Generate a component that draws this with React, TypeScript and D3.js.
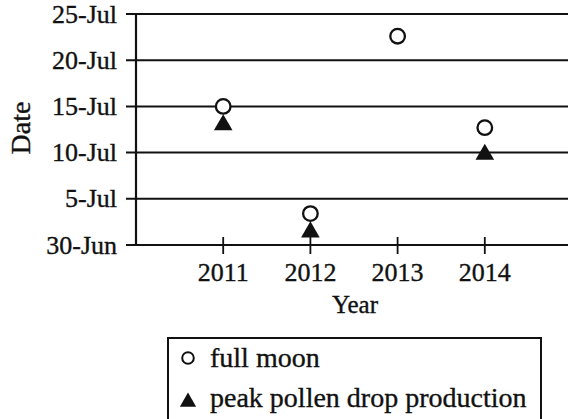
import React from "react";
import * as d3 from "d3";

const years = [2011, 2012, 2013, 2014];
const yearLabels = ["2011", "2012", "2013", "2014"];
// days after 30-Jun
const fullMoon = [15, 3.4, 22.6, 12.7];
const pollenPeak: (number | null)[] = [13, 1.4, null, 9.8];
const dateTicks = [0, 5, 10, 15, 20, 25];
const dateTickLabels = ["30-Jun", "5-Jul", "10-Jul", "15-Jul", "20-Jul", "25-Jul"];
const legendLabels = ["full moon", "peak pollen drop production"];

const W = 568;
const H = 419;
const FONT = "'Liberation Serif', 'DejaVu Serif', serif";
const INK = "#111";

export default function App() {
  const x = d3.scaleLinear().domain([2010, 2015]).range([136, 572]);
  const y = d3.scaleLinear().domain([0, 25]).range([245, 14]);
  const tri = d3.symbol().type(d3.symbolTriangle).size(150)()!;
  const triLegend = d3.symbol().type(d3.symbolTriangle).size(115)()!;
  const textStyle = { stroke: INK, strokeWidth: 0.35 };

  return (
    <svg
      width={W}
      height={H}
      style={{ position: "absolute", left: 0, top: 0, background: "#fff" }}
      fontFamily={FONT}
    >
      {/* gridlines + y ticks */}
      {dateTicks.map((d, i) => (
        <g key={d}>
          <line x1={126} x2={W} y1={y(d)} y2={y(d)} stroke={INK} strokeWidth={2} />
          <text
            x={117}
            y={y(d)}
            dy="0.33em"
            textAnchor="end"
            fontSize={26}
            fill={INK}
            style={textStyle}
          >
            {dateTickLabels[i]}
          </text>
        </g>
      ))}
      {/* y axis */}
      <line x1={x(2010)} x2={x(2010)} y1={y(25)} y2={y(0)} stroke={INK} strokeWidth={2.2} />
      {/* x ticks */}
      {years.map((yr, i) => (
        <g key={yr}>
          <line x1={x(yr)} x2={x(yr)} y1={y(0) - 8} y2={y(0) + 9} stroke={INK} strokeWidth={1.8} />
          <text x={x(yr)} y={281} textAnchor="middle" fontSize={26} fill={INK} style={textStyle}>
            {yearLabels[i]}
          </text>
        </g>
      ))}
      <text x={355} y={313} textAnchor="middle" fontSize={25} fill={INK} style={textStyle}>
        Year
      </text>
      <text
        transform="translate(30,128) rotate(-90)"
        textAnchor="middle"
        fontSize={28}
        fill={INK}
        style={textStyle}
      >
        Date
      </text>
      {/* pollen triangles */}
      {years.map((yr, i) =>
        pollenPeak[i] == null ? null : (
          <path
            key={"t" + yr}
            d={tri}
            transform={`translate(${x(yr)},${y(pollenPeak[i] as number)})`}
            fill={INK}
          />
        )
      )}
      {/* full moon circles */}
      {years.map((yr, i) => (
        <circle
          key={"c" + yr}
          cx={x(yr)}
          cy={y(fullMoon[i])}
          r={7.3}
          fill="#fff"
          stroke={INK}
          strokeWidth={2.3}
        />
      ))}
      {/* legend */}
      <rect x={168} y={338} width={373} height={100} fill="none" stroke={INK} strokeWidth={2} />
      <circle cx={188} cy={358} r={5.8} fill="#fff" stroke={INK} strokeWidth={2} />
      <text x={210} y={367} fontSize={28} fill={INK} style={textStyle}>
        {legendLabels[0]}
      </text>
      <path d={triLegend} transform="translate(188,402)" fill={INK} />
      <text x={210} y={407} fontSize={28} fill={INK} style={textStyle}>
        {legendLabels[1]}
      </text>
    </svg>
  );
}
